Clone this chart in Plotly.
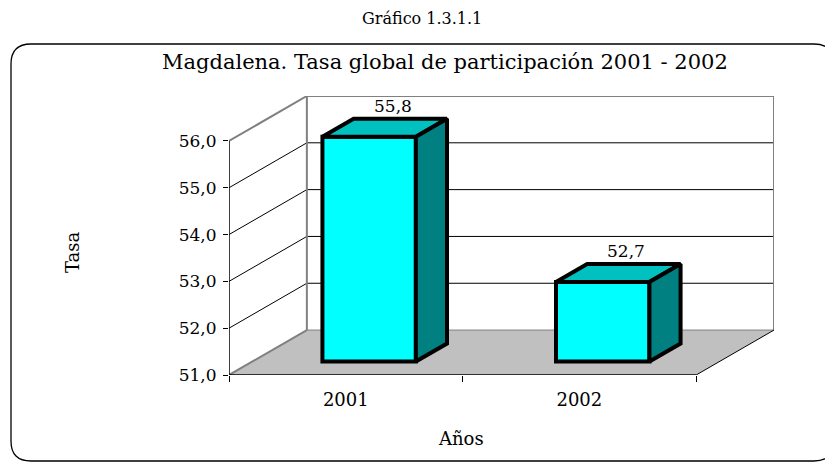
import plotly.graph_objects as go

years = ["2001", "2002"]
tasa = [55.8, 52.7]
y_ticks = [51, 52, 53, 54, 55, 56]

# the page body adds an 8px margin, so the figure is drawn 8px smaller
OFF = 8
W, H = 833 - OFF, 462 - OFF
L, R, T, B = 229 - OFF, 59, 96 - OFF, 87  # plot area margins (px)

Y0, Y1 = y_ticks[0], y_ticks[-1]
DX, DY = 1 / 3, 0.96          # depth of the 3-D box, in axis units
BAR_W = 0.4
D_FRONT, D_BACK = 0.3, 0.7    # bar front/back within the depth

FONT = "DejaVu Serif"
GRAY = "#808080"
CYAN, TOP, SIDE = "#00FFFF", "#00C0C0", "#008080"

n = len(years)
centers = [i + 0.5 for i in range(n)]
x_end = n + DX
y_end = Y1 + DY


def fmt(v):
    return f"{v:.1f}".replace(".", ",")


# screen pixel -> paper coords
def px_x(p):
    return (p - OFF - L) / (W - L - R)


def px_y(p):
    return (H - B - (p - OFF)) / (H - T - B)


def seg(x0, y0, x1, y1, color="black", width=1):
    return dict(type="line", xref="x", yref="y", x0=x0, y0=y0, x1=x1, y1=y1,
                line=dict(color=color, width=width), layer="below")


def label(x, y, text, size, angle=0):
    return dict(x=px_x(x), y=px_y(y), xref="paper", yref="paper", text=text,
                xanchor="center", yanchor="middle", textangle=angle,
                showarrow=False, font=dict(size=size))


shapes = [
    # floor
    dict(type="path", xref="x", yref="y", layer="below",
         path=f"M0,{Y0} L{n},{Y0} L{x_end},{Y0 + DY} L{DX},{Y0 + DY} Z",
         fillcolor="#C0C0C0", line=dict(width=0)),
]
# gridlines on side wall and back wall
for v in y_ticks[1:-1]:
    shapes.append(seg(0, v, DX, v + DY))
    shapes.append(seg(DX, v + DY, x_end, v + DY))
# wall edges
shapes += [
    seg(0, Y1, DX, y_end, GRAY, 2),
    seg(0, Y0, DX, Y0 + DY, GRAY, 2),
    seg(DX, Y0 + DY, DX, y_end, GRAY, 2),
    seg(DX, y_end, x_end, y_end, GRAY, 2),
    seg(x_end, y_end, x_end, Y0 + DY, GRAY, 2),
    seg(DX, Y0 + DY, x_end, Y0 + DY, GRAY, 1),
    seg(n, Y0, x_end, Y0 + DY),
    seg(0, Y0, n, Y0, "black", 1.5),
    seg(0, Y0, 0, Y1, "black", 1.5),
]

# rounded outer border
bl, bt, br, bb, r = 11, 44, 834, 461, 20
shapes.append(dict(
    type="path", xref="paper", yref="paper", layer="above",
    line=dict(color="black", width=1.3),
    path=(f"M{px_x(bl)},{px_y(bt + r)} Q{px_x(bl)},{px_y(bt)} {px_x(bl + r)},{px_y(bt)} "
          f"L{px_x(br - r)},{px_y(bt)} Q{px_x(br)},{px_y(bt)} {px_x(br)},{px_y(bt + r)} "
          f"L{px_x(br)},{px_y(bb - r)} Q{px_x(br)},{px_y(bb)} {px_x(br - r)},{px_y(bb)} "
          f"L{px_x(bl + r)},{px_y(bb)} Q{px_x(bl)},{px_y(bb)} {px_x(bl)},{px_y(bb - r)} Z"),
))

fig = go.Figure()

base = Y0 + D_FRONT * DY
fig.add_trace(go.Bar(
    x=[c + D_FRONT * DX for c in centers],
    y=[v - Y0 for v in tasa],
    base=base,
    width=BAR_W,
    marker=dict(color=CYAN, line=dict(color="black", width=4)),
    customdata=years,
    hovertemplate="%{customdata}: %{y}<extra></extra>",
    showlegend=False,
))

ddx = (D_BACK - D_FRONT) * DX
ddy = (D_BACK - D_FRONT) * DY
for c, v in zip(centers, tasa):
    left = c - BAR_W / 2 + D_FRONT * DX
    right = c + BAR_W / 2 + D_FRONT * DX
    top = v + D_FRONT * DY
    fig.add_trace(go.Scatter(
        x=[left, left + ddx, right + ddx, right, left],
        y=[top, top + ddy, top + ddy, top, top],
        mode="lines", fill="toself", fillcolor=TOP,
        line=dict(color="black", width=4), hoverinfo="skip", showlegend=False,
    ))
    fig.add_trace(go.Scatter(
        x=[right, right + ddx, right + ddx, right, right],
        y=[base, base + ddy, top + ddy, top, base],
        mode="lines", fill="toself", fillcolor=SIDE,
        line=dict(color="black", width=4), hoverinfo="skip", showlegend=False,
    ))

annotations = [
    dict(x=c + BAR_W / 2, y=v + D_BACK * DY, xref="x", yref="y", text=fmt(v),
         showarrow=False, xanchor="center", yanchor="bottom", yshift=1,
         font=dict(size=17))
    for c, v in zip(centers, tasa)
]
annotations += [
    label(422, 19, "Gráfico 1.3.1.1", 16),
    label(445, 62, "Magdalena. Tasa global de participación 2001 - 2002", 21),
    label(73, 252, "Tasa", 18, -90),
    label(461, 438, "Años", 18),
]

fig.update_layout(
    width=W, height=H,
    margin=dict(l=L, r=R, t=T, b=B),
    paper_bgcolor="white", plot_bgcolor="white",
    font=dict(family=FONT, color="black"),
    separators=",.",
    shapes=shapes,
    annotations=annotations,
    xaxis=dict(
        range=[0, x_end], tickvals=centers, ticktext=years, ticks="",
        showgrid=False, zeroline=False, showline=False,
        tickfont=dict(size=18), ticklabelstandoff=12,
        minor=dict(tickvals=list(range(n + 1)), ticks="outside", ticklen=6,
                   tickcolor="black", showgrid=False),
    ),
    yaxis=dict(
        range=[Y0, y_end], tickvals=y_ticks, ticktext=[fmt(v) for v in y_ticks],
        ticks="outside", ticklen=5, tickcolor="black",
        showgrid=False, zeroline=False, showline=False,
        tickfont=dict(size=17), ticklabelstandoff=3,
    ),
)

fig.write_html("out.html")
